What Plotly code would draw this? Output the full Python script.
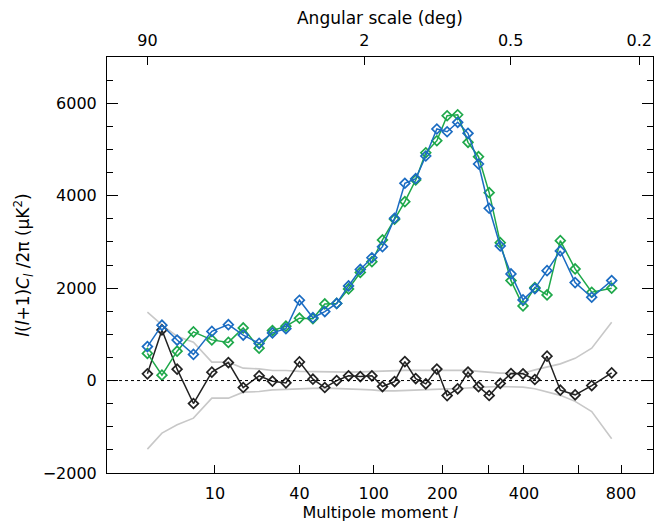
import numpy as np
import plotly.graph_objects as go

# Multipole bin centres
ell = [2, 3, 4.4, 6.4, 9.4, 12.9, 16.8, 21.9, 27, 33, 40, 48, 56, 65, 75, 86, 98,
       110, 125, 139, 155, 171, 190, 209, 230, 252, 276, 302, 331, 361, 397, 435,
       477, 526, 585, 657, 752]

# Power spectrum, map A (blue)
power_a = [735, 1198, 876, 566, 1064, 1209, 984, 804, 1031, 1122, 1738, 1360, 1492,
           1669, 2047, 2404, 2657, 2897, 3511, 4268, 4367, 4858, 5442, 5383, 5587,
           5349, 4685, 3727, 2912, 2307, 1745, 1989, 2378, 2804, 2119, 1803, 2162]

# Power spectrum, map B (green)
power_b = [588, 117, 636, 1053, 880, 826, 1139, 700, 1081, 1176, 1349, 1338, 1658,
           1669, 1983, 2339, 2573, 3042, 3489, 3870, 4339, 4929, 5189, 5729, 5751,
           5154, 4843, 4065, 2984, 2162, 1615, 2011, 1853, 3027, 2415, 1911, 1998]

# Difference (black)
power_diff = [145, 1096, 246, -497, 182, 389, -151, 102, -13, -50, 404, 30, -151,
              0, 102, 86, 102, -130, -22, 411, 43, -71, 249, -326, -179, 184, -132,
              -324, -61, 151, 145, 22, 528, -208, -309, -108, 166]

# Uncertainty band (gray)
band_hi = [1479, 1204, 956, 830, 398, 398, 268, 252, 216, 216, 199, 195, 182, 177,
           182, 188, 199, 210, 216, 220, 220, 220, 231, 231, 231, 220, 199, 177, 160,
           160, 160, 231, 296, 361, 480, 700, 1263]
band_lo = [-1483, -1137, -958, -813, -380, -380, -251, -238, -201, -186, -173, -169,
           -164, -169, -179, -190, -201, -223, -223, -212, -201, -190, -179, -179,
           -173, -158, -147, -136, -130, -136, -143, -179, -244, -320, -450, -670,
           -1260]

# Axis ticks
bottom_ticks = [10, 40, 100, 200, 400, 800]
bottom_labels = ["10", "40", "100", "200", "400", "800"]
bottom_minor = [300, 600]
top_ticks_deg = [90, 2, 0.5, 0.2]
top_labels = ["90", "2", "0.5", "0.2"]


def scale(l):
    # axis scale: l^(1/4)
    return np.power(np.asarray(l, dtype=float), 0.25)


x = scale(ell)
xr = [0.837, 5.597]

FONT = "DejaVu Sans"
BLUE = "#1b6cc2"
GREEN = "#1ea84a"
BLACK = "#222222"
GRAY = "#c8c8c8"

fig = go.Figure()

fig.add_trace(go.Scatter(x=x, y=band_hi, mode="lines",
                         line=dict(color=GRAY, width=1.6), hoverinfo="skip"))
fig.add_trace(go.Scatter(x=x, y=band_lo, mode="lines",
                         line=dict(color=GRAY, width=1.6), hoverinfo="skip"))

mk = dict(symbol="diamond-open", size=7.5, line=dict(width=1.7))
fig.add_trace(go.Scatter(x=x, y=power_diff, mode="lines+markers",
                         line=dict(color=BLACK, width=1.5),
                         marker=dict(color=BLACK, **mk)))
fig.add_trace(go.Scatter(x=x, y=power_b, mode="lines+markers",
                         line=dict(color=GREEN, width=1.5),
                         marker=dict(color=GREEN, **mk)))
fig.add_trace(go.Scatter(x=x, y=power_a, mode="lines+markers",
                         line=dict(color=BLUE, width=1.5),
                         marker=dict(color=BLUE, **mk)))

# invisible trace to anchor the top axis
fig.add_trace(go.Scatter(x=xr, y=[0, 0], xaxis="x2", mode="lines",
                         line=dict(width=0), opacity=0, hoverinfo="skip"))

fig.add_shape(type="line", xref="paper", yref="y", x0=0, x1=1, y0=0, y1=0,
              line=dict(color="black", width=1, dash="dot"))

top_l = [180.0 / t for t in top_ticks_deg]

fig.update_layout(
    width=655, height=524,
    margin=dict(l=107, r=2, t=57, b=51),
    paper_bgcolor="white", plot_bgcolor="white",
    showlegend=False,
    font=dict(family=FONT, size=16, color="black"),
    xaxis=dict(range=xr, tickmode="array", tickvals=scale(bottom_ticks),
               ticktext=bottom_labels, ticks="inside", ticklen=8, tickwidth=1,
               tickcolor="black", showline=True, linecolor="black", linewidth=1,
               showgrid=False, zeroline=False, ticklabelstandoff=6,
               minor=dict(tickmode="array", tickvals=scale(bottom_minor),
                          ticks="inside", ticklen=8, tickcolor="black"),
               title=dict(text="Multipole moment <i>l</i>", standoff=2,
                          font=dict(size=16))),
    xaxis2=dict(range=xr, overlaying="x", side="top", tickmode="array",
                tickvals=scale(top_l), ticktext=top_labels, ticks="inside",
                ticklen=8, tickcolor="black", showline=True, linecolor="black",
                linewidth=1, showgrid=False, zeroline=False, ticklabelstandoff=4,
                title=dict(text="Angular scale (deg)", standoff=1,
                           font=dict(size=17))),
    yaxis=dict(range=[-2000, 7000], tickmode="array",
               tickvals=[-2000, 0, 2000, 4000, 6000],
               ticktext=["\u22122000", "0", "2000", "4000", "6000"],
               ticks="inside", ticklen=11, tickcolor="black", showline=True,
               linecolor="black", linewidth=1, mirror="ticks", showgrid=False,
               zeroline=False, ticklabelstandoff=6,
               minor=dict(dtick=500, tick0=0, ticks="inside", ticklen=6,
                          tickcolor="black"),
               title=dict(text="<i>l</i>(<i>l</i>+1)<i>C</i><sub><i>l</i></sub> /2\u03c0 (\u03bcK<sup>2</sup>)",
                          standoff=8, font=dict(size=17))),
)

fig.write_html("out.html")
